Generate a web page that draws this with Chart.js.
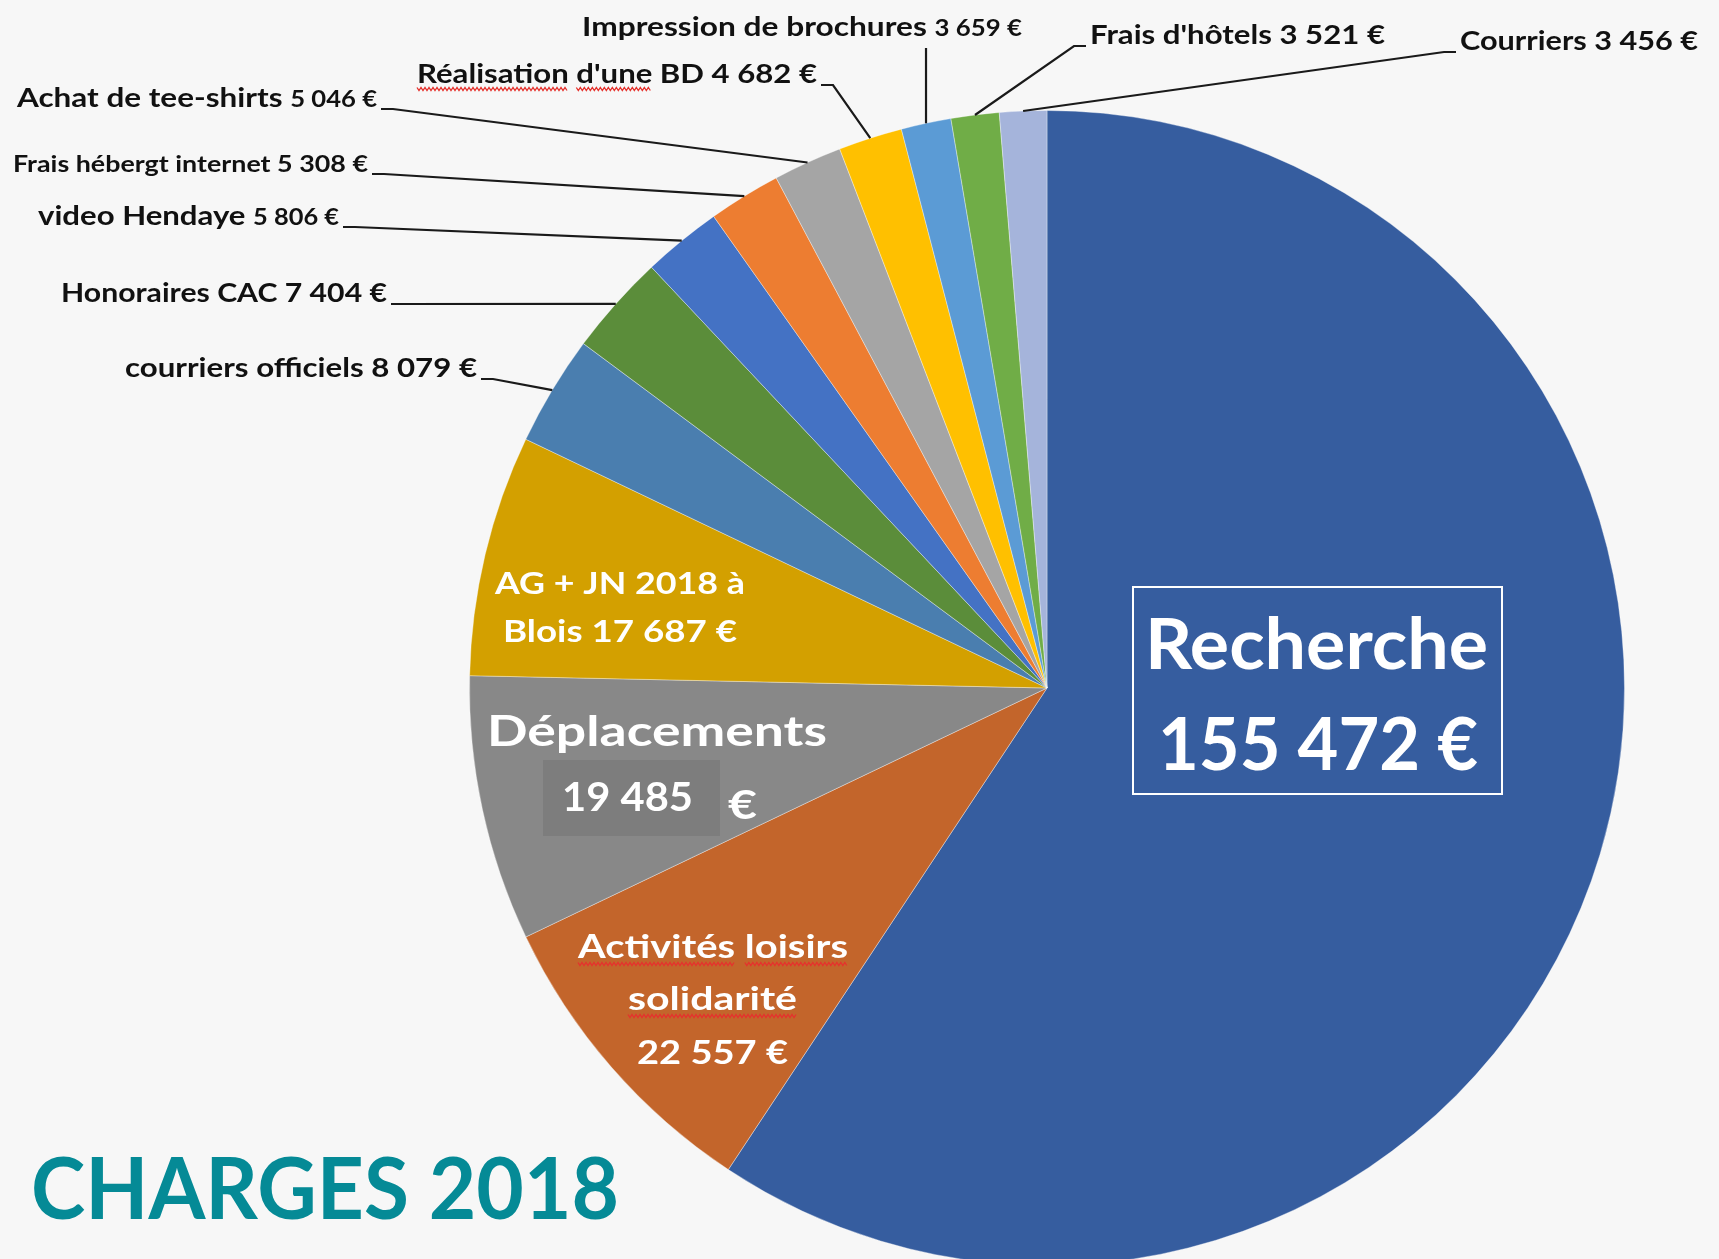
<!DOCTYPE html>
<html lang="fr">
<head>
<meta charset="utf-8">
<title>Charges 2018</title>
<script src="https://cdn.jsdelivr.net/npm/chart.js@4.4.0/dist/chart.umd.min.js"></script>
<style>
  html, body { margin: 0; padding: 0; background: #f7f7f7; overflow: hidden; }
  #wrap { position: relative; width: 1719px; height: 1259px; overflow: hidden; }
  canvas { display: block; }
</style>
</head>
<body>
<div id="wrap"><canvas id="chart" width="1719" height="1300"></canvas></div>
<script>
// data
const categories = [
    'Recherche',
    'Activités loisirs solidarité',
    'Déplacements',
    'AG + JN 2018 à Blois',
    'courriers officiels',
    'Honoraires CAC',
    'video Hendaye',
    'Frais hébergt internet',
    'Achat de tee-shirts',
    "Réalisation d'une BD",
    'Impression de brochures',
    "Frais d'hôtels",
    'Courriers'
];
const amounts = [155472, 22557, 19485, 17687, 8079, 7404, 5806, 5308, 5046, 4682, 3659, 3521, 3456];
const sliceColors = [
    '#365d9f', '#c3652b', '#888888', '#d3a000', '#4a7eaf', '#5b8d3a', '#4472c4',
    '#ed7d31', '#a5a5a5', '#ffc000', '#5b9bd5', '#70ad47', '#a5b4db'
];
const titleText = 'CHARGES 2018';
const spellWords = ['Réalisation', "d'une", 'Activités', 'loisirs', 'solidarité'];

const FONT = 'Lato, "Open Sans", sans-serif';
const BIG = 27, SMALL = 22;

// outer labels: text box and which side the leader leaves from
const outerLabels = {
    4:  { left: 125,  right: 477,  base: 377, cat: BIG,   val: BIG,   side: 'left' },
    5:  { left: 61,   right: 387,  base: 302, cat: BIG,   val: BIG,   side: 'left' },
    6:  { left: 38,   right: 339,  base: 225, cat: BIG,   val: SMALL, side: 'left' },
    7:  { left: 13,   right: 368,  base: 172, cat: SMALL, val: SMALL, side: 'left' },
    8:  { left: 17,   right: 377,  base: 107, cat: BIG,   val: SMALL, side: 'left' },
    9:  { left: 417,  right: 817,  base: 83,  cat: BIG,   val: BIG,   side: 'left' },
    10: { left: 582,  right: 1022, base: 36,  cat: BIG,   val: SMALL, side: 'top' },
    11: { left: 1090, right: 1385, base: 44,  cat: BIG,   val: BIG,   side: 'right' },
    12: { left: 1460, right: 1698, base: 50,  cat: BIG,   val: BIG,   side: 'right' }
};

// inner labels: words per line and where each line sits
const innerLabels = {
    0: [ { n: 1, left: 1145, right: 1488, base: 669, size: 70 },
         { n: 3, left: 1158, right: 1478, base: 770, size: 72 } ],
    1: [ { n: 2, left: 578, right: 848, base: 958, size: 33 },
         { n: 1, left: 628, right: 797, base: 1010, size: 33 },
         { n: 3, left: 637, right: 788, base: 1064, size: 33 } ],
    2: [ { n: 1, left: 487, right: 827, base: 746, size: 42 },
         { n: 2, left: 562, right: 693, base: 811, size: 40 },
         { n: 1, left: 728, right: 757, base: 819, size: 40 } ],
    3: [ { n: 5, left: 495, right: 745, base: 594, size: 30 },
         { n: 4, left: 503, right: 737, base: 642, size: 30 } ]
};

function fmtEuro(v) {
    return String(v).replace(/\B(?=(\d{3})+(?!\d))/g, ' ') + ' €';
}

function wavy(ctx, x0, x1, y) {
    ctx.save();
    ctx.strokeStyle = '#e5322d';
    ctx.lineWidth = 1.3;
    ctx.beginPath();
    let i = 0;
    for (let x = x0; x <= x1; x += 2, i++) {
        const yy = y + (i % 2 ? 1.5 : -1.5);
        if (i === 0) ctx.moveTo(x, yy); else ctx.lineTo(x, yy);
    }
    ctx.stroke();
    ctx.restore();
}

// parts = [{t, size, wavy}] squeezed to fit between left and right
function drawFitted(ctx, parts, left, right, base, color) {
    let natural = 0;
    parts.forEach(p => {
        ctx.font = `bold ${p.size}px ${FONT}`;
        p.w = ctx.measureText(p.t).width;
        natural += p.w;
    });
    const sx = (right - left) / natural;
    let x = left;
    ctx.save();
    ctx.fillStyle = color;
    ctx.textAlign = 'left';
    ctx.textBaseline = 'alphabetic';
    parts.forEach(p => {
        ctx.font = `bold ${p.size}px ${FONT}`;
        ctx.save();
        ctx.translate(x, base);
        ctx.scale(sx, 1);
        ctx.fillText(p.t, 0, 0);
        ctx.restore();
        if (p.wavy) wavy(ctx, x, x + p.w * sx, base + 6);
        x += p.w * sx;
    });
    ctx.restore();
}

function wordParts(words, size) {
    const parts = [];
    words.forEach((w, k) => {
        if (k > 0) parts.push({ t: ' ', size });
        parts.push({ t: w, size, wavy: spellWords.includes(w) });
    });
    return parts;
}

const labelPlugin = {
    id: 'charges-labels',
    afterDatasetsDraw(chart) {
        const ctx = chart.ctx;
        const arcs = chart.getDatasetMeta(0).data;

        // outer labels + leader lines
        Object.keys(outerLabels).forEach(key => {
            const i = Number(key);
            const L = outerLabels[i];
            const arc = arcs[i];
            const mid = (arc.startAngle + arc.endAngle) / 2;
            const ax = arc.x + Math.cos(mid) * arc.outerRadius;
            const ay = arc.y + Math.sin(mid) * arc.outerRadius;

            const parts = wordParts(categories[i].split(' '), L.cat);
            parts.push({ t: ' ', size: L.cat });
            parts.push({ t: fmtEuro(amounts[i]), size: L.val });
            drawFitted(ctx, parts, L.left, L.right, L.base, '#111111');

            ctx.save();
            ctx.strokeStyle = '#1a1a1a';
            ctx.lineWidth = 2.2;
            ctx.beginPath();
            if (L.side === 'top') {
                ctx.moveTo(ax, L.base + 12);
            } else if (L.side === 'left') {
                ctx.moveTo(L.right + 4, L.base + 2);
                ctx.lineTo(L.right + 16, L.base + 2);
            } else {
                ctx.moveTo(L.left - 4, L.base + 2);
                ctx.lineTo(L.left - 16, L.base + 2);
            }
            ctx.lineTo(ax, ay);
            ctx.stroke();
            ctx.restore();
        });

        // boxes behind the big labels
        ctx.save();
        ctx.fillStyle = '#7d7d7d';
        ctx.fillRect(543, 760, 177, 76);
        ctx.strokeStyle = '#ffffff';
        ctx.lineWidth = 2;
        ctx.strokeRect(1133, 587, 369, 207);
        ctx.restore();

        // inner labels
        Object.keys(innerLabels).forEach(key => {
            const i = Number(key);
            const words = (categories[i] + ' ' + fmtEuro(amounts[i])).split(' ');
            let k = 0;
            innerLabels[i].forEach(line => {
                const w = words.slice(k, k + line.n);
                k += line.n;
                drawFitted(ctx, wordParts(w, line.size), line.left, line.right, line.base, '#ffffff');
            });
        });

        // title
        drawFitted(ctx, [{ t: titleText, size: 86 }], 31, 619, 1219, '#058a96');
    }
};

new Chart(document.getElementById('chart').getContext('2d'), {
    type: 'pie',
    data: {
        labels: categories,
        datasets: [{
            data: amounts,
            backgroundColor: sliceColors,
            borderColor: 'rgba(255,255,255,0.35)',
            borderWidth: 1
        }]
    },
    options: {
        responsive: false,
        animation: false,
        devicePixelRatio: 1,
        layout: { padding: { top: 110, left: 469, right: 94, bottom: 34 } },
        plugins: {
            legend: { display: false },
            tooltip: { enabled: false }
        }
    },
    plugins: [labelPlugin]
});
</script>
</body>
</html>
